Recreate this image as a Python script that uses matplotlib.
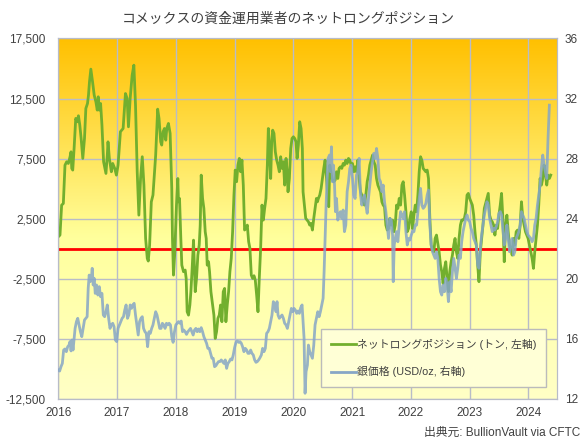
import matplotlib
matplotlib.use('Agg')
import matplotlib.pyplot as plt
import numpy as np
from matplotlib.colors import LinearSegmentedColormap
from matplotlib.lines import Line2D

plt.rcParams['font.family'] = ['Liberation Sans', 'Noto Sans CJK JP']

# COMEX managed money net long position (tonnes)
net_year = [
    2016.000, 2016.029, 2016.057, 2016.086, 2016.114, 2016.143, 2016.171, 2016.200, 2016.217, 2016.229,
    2016.246, 2016.269, 2016.297, 2016.326, 2016.343, 2016.366, 2016.389, 2016.417, 2016.446, 2016.469,
    2016.497, 2016.514, 2016.531, 2016.554, 2016.583, 2016.611, 2016.640, 2016.663, 2016.680, 2016.697,
    2016.720, 2016.743, 2016.771, 2016.811, 2016.834, 2016.846, 2016.869, 2016.903, 2016.926, 2016.960,
    2016.989, 2017.017, 2017.057, 2017.103, 2017.143, 2017.171, 2017.194, 2017.223, 2017.257, 2017.286,
    2017.314, 2017.343, 2017.371, 2017.400, 2017.429, 2017.457, 2017.486, 2017.514, 2017.531, 2017.554,
    2017.583, 2017.611, 2017.657, 2017.691, 2017.714, 2017.743, 2017.760, 2017.783, 2017.806, 2017.829,
    2017.846, 2017.874, 2017.903, 2017.931, 2017.943, 2017.960, 2017.983, 2018.011, 2018.034, 2018.045,
    2018.063, 2018.085, 2018.102, 2018.131, 2018.159, 2018.176, 2018.193, 2018.216, 2018.239, 2018.256,
    2018.278, 2018.301, 2018.318, 2018.330, 2018.352, 2018.375, 2018.398, 2018.415, 2018.432, 2018.455,
    2018.477, 2018.500, 2018.517, 2018.534, 2018.557, 2018.574, 2018.597, 2018.619, 2018.648, 2018.670,
    2018.693, 2018.716, 2018.739, 2018.761, 2018.784, 2018.807, 2018.830, 2018.852, 2018.875, 2018.898,
    2018.920, 2018.943, 2018.966, 2018.989, 2019.011, 2019.034, 2019.057, 2019.080, 2019.102, 2019.125,
    2019.148, 2019.170, 2019.193, 2019.216, 2019.239, 2019.261, 2019.284, 2019.307, 2019.330, 2019.352,
    2019.375, 2019.398, 2019.420, 2019.443, 2019.466, 2019.489, 2019.511, 2019.534, 2019.557, 2019.574,
    2019.597, 2019.614, 2019.631, 2019.648, 2019.670, 2019.693, 2019.716, 2019.739, 2019.761, 2019.784,
    2019.807, 2019.830, 2019.852, 2019.875, 2019.892, 2019.909, 2019.932, 2019.955, 2019.977, 2020.000,
    2020.023, 2020.045, 2020.063, 2020.085, 2020.108, 2020.131, 2020.153, 2020.165, 2020.188, 2020.210,
    2020.233, 2020.256, 2020.278, 2020.301, 2020.324, 2020.347, 2020.369, 2020.392, 2020.409, 2020.426,
    2020.449, 2020.472, 2020.494, 2020.517, 2020.540, 2020.563, 2020.585, 2020.602, 2020.619, 2020.642,
    2020.665, 2020.688, 2020.710, 2020.733, 2020.756, 2020.778, 2020.801, 2020.824, 2020.847, 2020.869,
    2020.892, 2020.915, 2020.938, 2020.960, 2020.983, 2021.006, 2021.028, 2021.051, 2021.074, 2021.097,
    2021.119, 2021.142, 2021.165, 2021.188, 2021.210, 2021.233, 2021.256, 2021.278, 2021.301, 2021.324,
    2021.347, 2021.369, 2021.392, 2021.415, 2021.438, 2021.460, 2021.483, 2021.506, 2021.528, 2021.551,
    2021.574, 2021.597, 2021.619, 2021.642, 2021.665, 2021.688, 2021.710, 2021.733, 2021.756, 2021.778,
    2021.801, 2021.824, 2021.847, 2021.869, 2021.892, 2021.915, 2021.938, 2021.960, 2021.983, 2022.006,
    2022.028, 2022.051, 2022.074, 2022.097, 2022.119, 2022.141, 2022.164, 2022.186, 2022.209, 2022.232,
    2022.254, 2022.277, 2022.299, 2022.322, 2022.345, 2022.367, 2022.390, 2022.412, 2022.435, 2022.458,
    2022.480, 2022.503, 2022.525, 2022.548, 2022.571, 2022.593, 2022.616, 2022.638, 2022.661, 2022.684,
    2022.706, 2022.729, 2022.751, 2022.774, 2022.797, 2022.819, 2022.842, 2022.864, 2022.887, 2022.910,
    2022.932, 2022.955, 2022.977, 2023.000, 2023.023, 2023.045, 2023.068, 2023.090, 2023.113, 2023.136,
    2023.158, 2023.181, 2023.203, 2023.226, 2023.249, 2023.271, 2023.294, 2023.316, 2023.339, 2023.362,
    2023.384, 2023.407, 2023.429, 2023.452, 2023.475, 2023.497, 2023.520, 2023.542, 2023.565, 2023.588,
    2023.610, 2023.633, 2023.655, 2023.678, 2023.701, 2023.723, 2023.746, 2023.768, 2023.791, 2023.814,
    2023.836, 2023.859, 2023.881, 2023.904, 2023.927, 2023.949, 2023.972, 2023.994, 2024.017, 2024.040,
    2024.062, 2024.085, 2024.107, 2024.130, 2024.153, 2024.175, 2024.198, 2024.220, 2024.243, 2024.266,
    2024.288, 2024.311, 2024.333, 2024.356, 2024.379,
]
net_tonnes = [
    1000, 1140, 3635, 3770, 6960, 7240, 7100, 7660, 8070, 6690,
    6550, 8350, 10850, 10570, 11070, 10290, 9180, 7520, 9180, 11680,
    12090, 12790, 13900, 14950, 13900, 12790, 12230, 11540, 12650, 11540,
    12090, 10290, 7240, 6270, 7790, 8900, 7520, 6410, 7100, 6690,
    6130, 6960, 9740, 10010, 12920, 12510, 10150, 12510, 14450, 15280,
    11950, 6410, 2800, 5850, 7660, 5300, 860, -800, -1020, 310,
    3910, 4470, 7790, 11620, 10850, 8900, 8630, 9740, 10010, 9040,
    10010, 10430, 9600, 5020, 860, -2190, -250, 3635, 5850, 3910,
    4190, 860, -1360, -1910, -1770, -2470, -5240, -5520, -4680, -3570,
    -1630, 720, -1910, -3570, -2470, -530, 310, 1970, 6130, 4190,
    3360, 1420, 860, -1360, -1080, -1910, -3570, -4410, -5520, -7460,
    -6900, -5790, -5520, -4680, -6070, -3570, -3300, -6070, -4680, -3570,
    -1910, -800, 1420, 4470, 6550, 5580, 6960, 7520, 6410, 7380,
    5300, 1560, 1690, 1970, 590, 30, -2190, -2470, -2240, -2600,
    -3850, -5240, -2470, 30, 3635, 2390, 3360, 4190, 6960, 10010,
    7790, 5850, 8900, 9870, 9600, 8070, 7380, 6960, 6410, 7660,
    6690, 7240, 5300, 7520, 6550, 4740, 5850, 8350, 9180, 9320,
    9180, 8900, 7520, 8630, 10570, 10010, 8350, 4740, 3635, 2530,
    2390, 2250, 1970, 2110, 1560, 2530, 3360, 4190, 3910, 4190,
    4470, 5020, 5850, 6690, 7380, 5850, 4470, 3500, 6960, 6270,
    5710, 5580, 5710, 6410, 5850, 6690, 6820, 6690, 7100, 6960,
    7380, 7100, 7520, 7380, 6960, 7100, 6410, 6820, 6410, 7380,
    5850, 4740, 4470, 3910, 3635, 4470, 5580, 6130, 6960, 7380,
    7790, 7240, 6960, 5850, 5300, 5020, 4740, 3910, 3635, 3500,
    1970, 1560, 1690, 2530, 1970, 2390, 1420, 1970, 3635, 3360,
    4190, 3635, 5300, 5580, 4470, 3080, 1420, 1690, 2530, 3080,
    1690, 2800, 3635, 3080, 4470, 6410, 7660, 7380, 6690, 6550,
    6410, 6550, 5850, 2530, 310, -110, -250, 860, 1140, 450,
    -250, -1360, -1910, -2880, -1630, -1080, -2470, -3570, -1910, -1080,
    -530, 310, 860, -250, -800, 860, 1970, 2390, 2390, 2530,
    3080, 4470, 4610, 4190, 3910, 3635, 2800, 1420, 310, -1360,
    -2740, -250, 860, 1970, 3360, 3770, 4190, 4610, 2800, 2390,
    2250, 1970, 1140, 1970, 1690, 2800, 3635, 4610, 2530, -1080,
    1970, 2800, 1420, 310, 30, -530, 860, 310, 1420, 1560,
    860, 1970, 3910, 2530, 1970, 1420, 1140, 860, 310, -250,
    -800, -1630, -250, 860, 1970, 3635, 5850, 5300, 5850, 6960,
    6270, 5300, 6130, 5850, 6130,
]

# silver price (USD/oz)
silver_year = [
    2016.000, 2016.023, 2016.046, 2016.069, 2016.091, 2016.114, 2016.137, 2016.160, 2016.183, 2016.200,
    2016.217, 2016.234, 2016.251, 2016.269, 2016.286, 2016.309, 2016.331, 2016.354, 2016.377, 2016.400,
    2016.423, 2016.446, 2016.469, 2016.491, 2016.509, 2016.526, 2016.543, 2016.560, 2016.577, 2016.594,
    2016.611, 2016.629, 2016.651, 2016.674, 2016.697, 2016.720, 2016.743, 2016.766, 2016.789, 2016.811,
    2016.834, 2016.857, 2016.880, 2016.903, 2016.926, 2016.949, 2016.971, 2016.994, 2017.017, 2017.040,
    2017.063, 2017.086, 2017.109, 2017.131, 2017.154, 2017.177, 2017.200, 2017.223, 2017.246, 2017.269,
    2017.291, 2017.314, 2017.337, 2017.360, 2017.383, 2017.406, 2017.429, 2017.451, 2017.474, 2017.497,
    2017.520, 2017.543, 2017.566, 2017.589, 2017.611, 2017.634, 2017.657, 2017.680, 2017.703, 2017.726,
    2017.749, 2017.771, 2017.794, 2017.817, 2017.840, 2017.863, 2017.886, 2017.909, 2017.931, 2017.954,
    2017.977, 2018.000, 2018.023, 2018.046, 2018.069, 2018.091, 2018.114, 2018.136, 2018.159, 2018.182,
    2018.205, 2018.227, 2018.250, 2018.273, 2018.295, 2018.318, 2018.341, 2018.364, 2018.386, 2018.409,
    2018.432, 2018.455, 2018.477, 2018.500, 2018.523, 2018.545, 2018.568, 2018.591, 2018.614, 2018.636,
    2018.659, 2018.682, 2018.705, 2018.727, 2018.750, 2018.773, 2018.795, 2018.818, 2018.841, 2018.864,
    2018.886, 2018.909, 2018.932, 2018.955, 2018.977, 2019.000, 2019.023, 2019.045, 2019.068, 2019.091,
    2019.114, 2019.136, 2019.159, 2019.182, 2019.205, 2019.227, 2019.250, 2019.273, 2019.295, 2019.318,
    2019.341, 2019.364, 2019.386, 2019.409, 2019.432, 2019.455, 2019.477, 2019.500, 2019.523, 2019.545,
    2019.568, 2019.591, 2019.614, 2019.636, 2019.659, 2019.682, 2019.705, 2019.722, 2019.739, 2019.761,
    2019.784, 2019.807, 2019.830, 2019.852, 2019.875, 2019.898, 2019.920, 2019.943, 2019.966, 2019.989,
    2020.011, 2020.034, 2020.057, 2020.080, 2020.102, 2020.125, 2020.148, 2020.165, 2020.182, 2020.199,
    2020.216, 2020.239, 2020.256, 2020.278, 2020.301, 2020.324, 2020.347, 2020.369, 2020.392, 2020.415,
    2020.438, 2020.460, 2020.483, 2020.506, 2020.523, 2020.540, 2020.557, 2020.574, 2020.591, 2020.614,
    2020.631, 2020.648, 2020.665, 2020.682, 2020.699, 2020.716, 2020.733, 2020.756, 2020.778, 2020.801,
    2020.824, 2020.847, 2020.869, 2020.892, 2020.915, 2020.938, 2020.960, 2020.983, 2021.006, 2021.028,
    2021.051, 2021.074, 2021.097, 2021.119, 2021.142, 2021.165, 2021.188, 2021.210, 2021.233, 2021.256,
    2021.278, 2021.301, 2021.324, 2021.347, 2021.369, 2021.392, 2021.415, 2021.438, 2021.460, 2021.483,
    2021.506, 2021.528, 2021.551, 2021.574, 2021.597, 2021.619, 2021.642, 2021.665, 2021.688, 2021.699,
    2021.716, 2021.733, 2021.756, 2021.778, 2021.801, 2021.824, 2021.847, 2021.869, 2021.892, 2021.915,
    2021.938, 2021.960, 2021.983, 2022.006, 2022.028, 2022.051, 2022.074, 2022.097, 2022.119, 2022.141,
    2022.164, 2022.186, 2022.209, 2022.232, 2022.254, 2022.277, 2022.299, 2022.322, 2022.345, 2022.367,
    2022.390, 2022.412, 2022.435, 2022.458, 2022.480, 2022.503, 2022.525, 2022.548, 2022.571, 2022.593,
    2022.616, 2022.638, 2022.661, 2022.684, 2022.706, 2022.729, 2022.751, 2022.774, 2022.797, 2022.819,
    2022.842, 2022.864, 2022.887, 2022.910, 2022.932, 2022.955, 2022.977, 2023.000, 2023.023, 2023.045,
    2023.068, 2023.090, 2023.113, 2023.136, 2023.158, 2023.181, 2023.203, 2023.226, 2023.249, 2023.271,
    2023.294, 2023.316, 2023.339, 2023.362, 2023.384, 2023.407, 2023.429, 2023.452, 2023.475, 2023.497,
    2023.520, 2023.542, 2023.565, 2023.588, 2023.610, 2023.633, 2023.655, 2023.678, 2023.701, 2023.723,
    2023.746, 2023.768, 2023.791, 2023.814, 2023.836, 2023.859, 2023.881, 2023.904, 2023.927, 2023.949,
    2023.972, 2023.994, 2024.017, 2024.040, 2024.062, 2024.085, 2024.107, 2024.130, 2024.153, 2024.175,
    2024.198, 2024.220, 2024.243, 2024.266, 2024.288, 2024.311, 2024.333, 2024.356,
]
silver_usd = [
    13.93, 13.86, 14.15, 14.37, 15.26, 15.33, 15.15, 15.48, 15.59, 15.82,
    15.20, 15.93, 15.26, 16.04, 16.70, 17.15, 17.37, 16.93, 16.48, 16.15,
    16.70, 17.26, 17.37, 17.48, 19.37, 20.25, 19.81, 19.92, 20.70, 19.59,
    20.03, 19.03, 19.59, 18.92, 19.48, 18.81, 19.03, 17.59, 17.48, 17.81,
    18.26, 17.37, 16.70, 16.93, 17.04, 16.81, 15.93, 15.82, 16.70, 16.93,
    17.15, 17.37, 17.48, 17.92, 18.26, 17.37, 17.59, 18.26, 18.03, 18.26,
    18.37, 17.59, 16.93, 16.26, 17.15, 17.37, 17.48, 16.70, 16.48, 16.37,
    15.48, 16.48, 16.37, 16.70, 16.93, 17.37, 17.81, 17.59, 17.15, 16.70,
    16.70, 17.04, 16.93, 16.70, 17.04, 16.93, 17.04, 16.93, 16.15, 15.77,
    16.48, 16.93, 17.04, 17.15, 17.04, 17.19, 16.48, 16.59, 16.48, 16.30,
    16.48, 16.59, 16.70, 16.48, 16.26, 16.59, 16.70, 16.48, 16.66, 16.48,
    16.75, 16.48, 16.15, 15.93, 15.71, 15.37, 15.37, 15.04, 14.71, 14.71,
    14.15, 14.22, 14.37, 14.49, 14.49, 14.60, 14.49, 14.37, 14.60, 14.04,
    14.37, 14.49, 14.66, 14.60, 14.93, 15.42, 15.77, 15.86, 15.77, 15.82,
    15.71, 15.48, 15.15, 15.37, 15.26, 15.04, 15.04, 15.26, 15.04, 14.93,
    14.60, 14.44, 14.49, 14.60, 14.75, 14.93, 15.37, 15.15, 15.37, 16.37,
    16.48, 16.70, 17.15, 17.59, 18.48, 18.26, 17.81, 18.48, 17.59, 17.37,
    17.48, 17.59, 17.37, 17.04, 16.93, 16.70, 17.15, 17.59, 18.03, 17.81,
    18.03, 17.92, 17.70, 17.86, 17.70, 18.08, 18.26, 17.15, 16.04, 12.38,
    13.82, 14.26, 15.59, 15.15, 14.93, 14.71, 15.59, 16.93, 17.37, 17.81,
    17.48, 17.81, 18.26, 18.70, 20.47, 22.69, 24.91, 26.68, 28.02, 28.24,
    27.13, 28.79, 26.46, 27.57, 26.35, 24.47, 25.35, 23.91, 24.25, 24.47,
    24.02, 24.58, 23.14, 23.58, 25.80, 26.46, 27.35, 27.57, 26.68, 25.58,
    25.35, 26.91, 27.13, 28.02, 25.58, 24.91, 25.35, 25.58, 24.91, 24.36,
    25.35, 26.24, 27.13, 27.79, 28.35, 28.02, 28.68, 28.02, 26.68, 26.46,
    25.80, 26.24, 25.13, 24.47, 23.58, 22.69, 24.02, 23.91, 22.91, 19.81,
    22.25, 22.69, 23.14, 22.47, 23.58, 24.47, 24.25, 24.02, 24.47, 23.14,
    22.25, 22.69, 22.58, 22.91, 23.14, 23.14, 23.58, 23.58, 24.47, 25.35,
    26.02, 24.91, 24.69, 24.80, 25.02, 25.58, 25.91, 23.58, 22.25, 21.80,
    21.58, 21.36, 21.80, 21.36, 20.03, 19.14, 18.92, 19.59, 19.14, 20.03,
    19.59, 18.48, 19.81, 19.14, 20.47, 21.36, 20.70, 20.03, 20.70, 21.58,
    21.36, 22.47, 23.14, 23.58, 24.02, 24.25, 23.91, 23.80, 23.36, 23.14,
    22.69, 22.47, 22.25, 20.92, 20.70, 22.03, 22.91, 23.58, 24.25, 24.69,
    25.13, 24.91, 24.02, 23.58, 23.14, 23.36, 23.25, 23.47, 23.80, 24.36,
    24.47, 24.25, 23.25, 22.25, 22.69, 23.58, 22.69, 21.80, 22.47, 22.69,
    21.58, 21.80, 22.69, 22.91, 23.14, 23.58, 24.47, 24.25, 24.02, 23.58,
    23.14, 22.91, 22.80, 22.69, 22.47, 22.69, 23.58, 24.02, 24.91, 25.58,
    26.24, 27.35, 28.24, 27.57, 27.13, 26.68, 29.35, 31.56,
]

left_ticks = [17500, 12500, 7500, 2500, -2500, -7500, -12500]
right_ticks = [36, 32, 28, 24, 20, 16, 12]
year_ticks = [2016, 2017, 2018, 2019, 2020, 2021, 2022, 2023, 2024]

fig = plt.figure(figsize=(5.84, 4.46), dpi=100)
ax = fig.add_axes([0.0998, 0.1054, 0.8534, 0.8083])
ax2 = ax.twinx()

# background gradient: orange at top fading to pale yellow
bg = LinearSegmentedColormap.from_list('bg', [(0, '#FFFFC6'), (0.45, '#FFFF9C'), (1, '#FFC000')])
ax.imshow(np.linspace(0, 1, 256).reshape(-1, 1), cmap=bg, extent=[0, 1, 0, 1],
          transform=ax.transAxes, aspect='auto', origin='lower', zorder=0)

grid_c = '#B8BCC8'
for y in left_ticks:
    ax.axhline(y, color=grid_c, lw=1, zorder=1)
for x in year_ticks:
    ax.axvline(x, color=grid_c, lw=1, zorder=1)

green = '#72AF2E'
blue = '#86A6C6'
ax.axhline(0, color='#FF0000', lw=2, zorder=2)
ax.plot(net_year, net_tonnes, color=green, lw=2, zorder=3)
ax2.plot(silver_year, silver_usd, color=blue, lw=2, alpha=0.85, zorder=3)

ax.set_xlim(2016, 2024.48)
ax.set_ylim(-12500, 17500)
ax2.set_ylim(12, 36)

ax.set_yticks(left_ticks)
ax.set_yticklabels(['{:,}'.format(v) for v in left_ticks])
ax2.set_yticks(right_ticks)
ax2.set_yticklabels([str(v) for v in right_ticks])
ax.set_xticks(year_ticks)
ax.set_xticklabels([str(v) for v in year_ticks])

for a in (ax, ax2):
    a.tick_params(length=0, labelsize=8.5, labelcolor='#404040')
    for s in a.spines.values():
        s.set_color('#B8BCC8')
ax.tick_params(axis='x', pad=6)
ax.tick_params(axis='y', pad=9)
ax2.tick_params(axis='y', pad=6)

handles = [Line2D([], [], color=green, lw=2), Line2D([], [], color=blue, lw=2)]
leg = ax2.legend(handles, ['ネットロングポジション (トン, 左軸)', '銀価格 (USD/oz, 右軸)'],
                 loc='lower right', bbox_to_anchor=(0.979, 0.033), borderaxespad=0,
                 fontsize=7.8, handlelength=2.3, handletextpad=0.1, labelspacing=1.5,
                 fancybox=False, framealpha=1, facecolor='#FFFFD6', edgecolor='#BBBBBB',
                 borderpad=0.9)
leg.get_frame().set_linewidth(1)
for t in leg.get_texts():
    t.set_color('#404040')

fig.text(0.493, 0.958, 'コメックスの資金運用業者のネットロングポジション', ha='center', va='center',
         fontsize=10, color='#404040')
fig.text(0.993, 0.029, '出典元: BullionVault via CFTC', ha='right', va='center',
         fontsize=8.5, color='#404040')

fig.savefig('out.png', dpi=100)
